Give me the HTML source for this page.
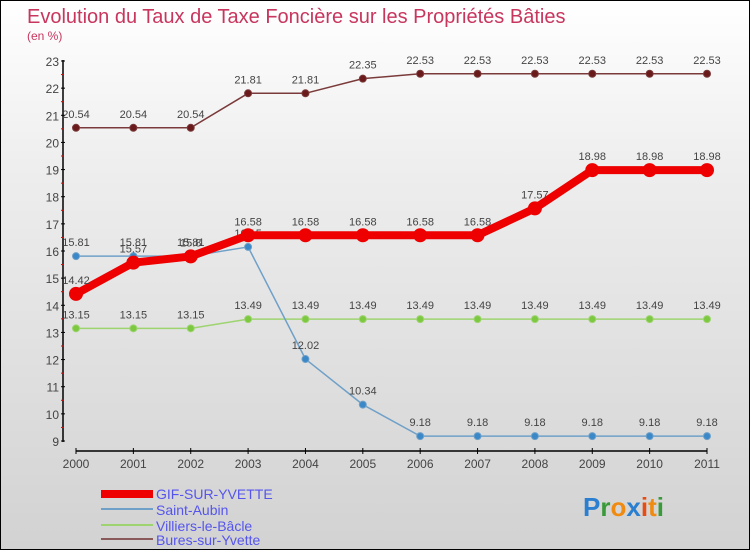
<!DOCTYPE html>
<html><head><meta charset="utf-8"><style>
body{margin:0;}
#wrap{width:750px;height:550px;position:relative;box-sizing:border-box;border:1px solid #000;background:linear-gradient(#fff 0%,#eee 30%,#d2d2d2 100%);font-family:"Liberation Sans",sans-serif;overflow:hidden}
</style></head><body>
<div id="wrap">
<svg id="chart" width="748" height="548" xmlns="http://www.w3.org/2000/svg">
<text x="26" y="22" font-size="20" fill="#c8365e">Evolution du Taux de Taxe Foncière sur les Propriétés Bâties</text>
<text x="26" y="39" font-size="12" fill="#c8365e">(en %)</text>
<g id="axes"></g><g id="series"></g>
<g>
<rect x="100" y="489" width="52" height="8" fill="#e00"/>
<text x="155" y="498" font-size="14" fill="#5555ee">GIF-SUR-YVETTE</text>
<rect x="100" y="507" width="52" height="2" fill="#6fa0c8"/>
<text x="155" y="514" font-size="14" fill="#5555ee">Saint-Aubin</text>
<rect x="100" y="523" width="52" height="2" fill="#9ed470"/>
<text x="155" y="530" font-size="14" fill="#5555ee">Villiers-le-Bâcle</text>
<rect x="100" y="537" width="52" height="2" fill="#8a5a5a"/>
<text x="155" y="544" font-size="14" fill="#5555ee">Bures-sur-Yvette</text>
</g>
<text x="582" y="515" font-size="26" font-weight="bold"><tspan fill="#2a7fd0">P</tspan><tspan fill="#3a9a3a">r</tspan><tspan fill="#f08a10">o</tspan><tspan fill="#2a7fd0">x</tspan><tspan fill="#e84c10">i</tspan><tspan fill="#f08a10">t</tspan><tspan fill="#3a9a3a">i</tspan></text>
</svg>
</div>
<script>
const years=[2000,2001,2002,2003,2004,2005,2006,2007,2008,2009,2010,2011];
const gif=[14.42,15.57,15.8,16.58,16.58,16.58,16.58,16.58,17.57,18.98,18.98,18.98];
const saintAubin=[15.81,15.81,15.81,16.15,12.02,10.34,9.18,9.18,9.18,9.18,9.18,9.18];
const villiers=[13.15,13.15,13.15,13.49,13.49,13.49,13.49,13.49,13.49,13.49,13.49,13.49];
const bures=[20.54,20.54,20.54,21.81,21.81,22.35,22.53,22.53,22.53,22.53,22.53,22.53];
const yTicks=[9,10,11,12,13,14,15,16,17,18,19,20,21,22,23];
const NS="http://www.w3.org/2000/svg";
const x=i=>75+i*(706-75)/(years.length-1);
const y=v=>440-(v-9)*(380/14);
function mk(t,a,p){const e=document.createElementNS(NS,t);for(const k in a)e.setAttribute(k,a[k]);p.appendChild(e);return e;}
const ax=document.getElementById('axes');
const yl=mk('line',{x1:62,y1:59,x2:62,y2:441,stroke:'#000','stroke-width':1.5},ax);


yTicks.forEach(v=>{
 mk('line',{x1:60,x2:64,y1:y(v),y2:y(v),stroke:'#000'},ax);
 if(v<23)mk('line',{x1:60,x2:63,y1:y(v+0.5),y2:y(v+0.5),stroke:'#e00'},ax);
 const t=mk('text',{x:58,y:y(v)+5,'text-anchor':'end','font-size':12,fill:'#444'},ax);t.textContent=v;
 
 
});
const xl=mk('line',{x1:75,y1:450,x2:706,y2:450,stroke:'#000','stroke-width':1.5},ax);


years.forEach((yr,i)=>{
 mk('line',{x1:x(i),x2:x(i),y1:447,y2:453,stroke:'#000'},ax);
 const t=mk('text',{x:x(i),y:467,'text-anchor':'middle','font-size':12,fill:'#444'},ax);t.textContent=yr;
 
 
});
const sg=document.getElementById('series');
function series(vals,color,w,r,name,stroke){
 const g=mk('g',{},sg);
 
 
 const pl=mk('polyline',{points:vals.map((v,i)=>x(i)+','+y(v)).join(' '),fill:'none',stroke:color,'stroke-width':w,'stroke-linejoin':'round'},g);
 
 
 vals.forEach((v,i)=>{
  const c=mk('circle',{cx:x(i),cy:y(v),r:r,fill:stroke,stroke:color,'stroke-width':1},g);
  
  
  const t=mk('text',{x:x(i),y:y(v)-10,'text-anchor':'middle','font-size':11,fill:'#444'},g);t.textContent=v;
  
  
 });
}
series(bures,'#7a3a3a',1.5,3.5,'bures-series','#6a1a1a');
series(villiers,'#9ed470',1.5,3.5,'villiers-series','#7cc840');
series(saintAubin,'#6fa0c8',1.5,3.5,'saint-aubin-series','#3a88c8');
series(gif,'#ee0000',8,6.5,'gif-series','#ee0000');
</script>
</body></html>
